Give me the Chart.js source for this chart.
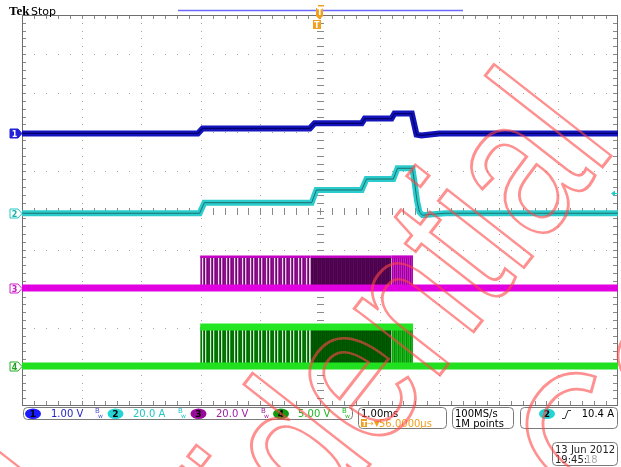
<!DOCTYPE html>
<html>
<head>
<meta charset="utf-8">
<script src="https://cdn.jsdelivr.net/npm/chart.js@4.4.0/dist/chart.umd.min.js"></script>
<style>
  html, body { margin: 0; padding: 0; background: #fff; }
  #wrap { width: 621px; height: 467px; }
</style>
</head>
<body>
<div id="wrap"><canvas id="scope" width="621" height="467"></canvas></div>
<script>
// horizontal: 1.00 ms/div, trigger at the centre, values in ms
const timeRange = [-5, 5];

// CH1, 1.00 V/div
const ch1Time  = [-5, -2.05, -1.97, -0.17, -0.09, 0.70, 0.75, 1.20, 1.25, 1.54, 1.62, 1.70, 2.00, 5];
const ch1Volts = [0, 0, 0.13, 0.13, 0.26, 0.26, 0.38, 0.38, 0.51, 0.51, -0.03, -0.05, 0, 0];

// CH2, 20.0 A/div
const ch2Time = [-5, -2.02, -1.94, -0.14, -0.06, 0.70, 0.78, 1.23, 1.30, 1.55, 1.59, 1.63, 1.67, 1.72, 1.85, 2.10, 5];
const ch2Amps = [0, 0, 5.4, 5.4, 11.9, 11.9, 17.5, 17.5, 23.0, 23.0, 15.0, 6.0, 0.5, -1.0, -0.6, 0, 0];

// CH3 (20.0 V/div) and CH4 (5.00 V/div) gate bursts
const burstEdges = [-2.01, -0.16, 1.20, 1.56]; // start, sparse->dense, dense->tail, end
const ch3High = 16.0;
const ch4High = 5.0;

// scope settings
const perDiv = [1.00, 20.0, 20.0, 5.00];
const offsetDiv = [1.97, -0.07, -1.98, -3.98];
const triggerLevel = 10.4;

const xy = (t, v) => t.map((x, i) => ({ x: x, y: v[i] }));
const flat = (span, v) => [{ x: span[0], y: v }, { x: span[1], y: v }];

function stripes(cols) {
  const c = document.createElement('canvas');
  c.width = cols.length; c.height = 4;
  const g = c.getContext('2d');
  cols.forEach((col, i) => { g.fillStyle = col; g.fillRect(i, 0, 1, 4); });
  return g.createPattern(c, 'repeat');
}

const ch3Fill = [
  stripes(['#8a128a', '#8a128a', '#f2dcf2', '#a030a0', '#6a086a', '#e8c8e8', '#b040b0', '#7a0a7a']),
  stripes(['#4c004c', '#5a0a5a', '#480048', '#520452']),
  stripes(['#a000a0', '#d020d0', '#8a008a', '#c818c8'])
];
const ch4Fill = [
  stripes(['#0a700a', '#0a700a', '#d8f4d8', '#129012', '#065806', '#c8ecc8', '#20a020', '#0a6a0a']),
  stripes(['#005400', '#006000', '#004e00', '#005a00']),
  stripes(['#10a010', '#20c020', '#0c8c0c', '#18b018'])
];

const line = (data, color, width, axis, extra) =>
  Object.assign({ data: data, borderColor: color, borderWidth: width, yAxisID: axis, fill: false }, extra);

const yAxes = {};
perDiv.forEach((d, i) => {
  yAxes['y' + (i + 1)] = { type: 'linear', display: false, min: (-5 - offsetDiv[i]) * d, max: (5 - offsetDiv[i]) * d };
});

function badge(ctx, x, y, fill, num) {
  ctx.fillStyle = fill;
  ctx.beginPath(); ctx.ellipse(x, y, 8, 5.3, 0, 0, Math.PI * 2); ctx.fill();
  ctx.fillStyle = '#000'; ctx.font = 'bold 9px "DejaVu Sans"'; ctx.textAlign = 'center';
  ctx.fillText(num, x, y + 3.5); ctx.textAlign = 'left';
}
function bw(ctx, x, color) {
  ctx.fillStyle = color;
  ctx.font = '7px "DejaVu Sans"'; ctx.fillText('B', x, 413);
  ctx.font = '6px "DejaVu Sans"'; ctx.fillText('w', x + 3, 418);
}
function box(ctx, x, y, w, h) {
  ctx.strokeStyle = '#7a7a7a'; ctx.lineWidth = 1;
  ctx.beginPath(); ctx.roundRect(x + 0.5, y + 0.5, w, h, 4); ctx.stroke();
}

const scopeDecor = {
  id: 'scopeDecor',
  beforeDatasetsDraw(chart) {
    const { ctx, chartArea: a } = chart;
    const dx = (a.right - a.left) / 10, dy = (a.bottom - a.top) / 10;
    const cx = Math.round(a.left + 5 * dx), cy = Math.round(a.top + 5 * dy);
    ctx.save();
    ctx.fillStyle = '#a4a4a4';
    for (let i = 1; i < 10; i++) {
      const x = Math.round(a.left + i * dx), y = Math.round(a.top + i * dy);
      for (let k = 1; k < 50; k++) {
        ctx.fillRect(x, Math.round(a.top + k * dy / 5), 1, 1);
        ctx.fillRect(Math.round(a.left + k * dx / 5), y, 1, 1);
      }
    }
    ctx.fillStyle = '#8a8a8a';
    for (let k = 1; k < 50; k++) {
      const y = Math.round(a.top + k * dy / 5), x = Math.round(a.left + k * dx / 5);
      ctx.fillRect(cx - 3, y, 7, 1);
      ctx.fillRect(x, cy - 3, 1, 7);
      ctx.fillRect(a.left, y, 4, 1);
      ctx.fillRect(a.right - 5, y, 4, 1);
      ctx.fillRect(x, a.top, 1, 4);
      ctx.fillRect(x, a.bottom - 5, 1, 4);
    }
    ctx.strokeStyle = '#6e6e6e'; ctx.lineWidth = 1;
    ctx.strokeRect(a.left + 0.5, a.top + 0.5, a.right - a.left - 1, a.bottom - a.top - 1);
    ctx.restore();
  },
  afterDraw(chart) {
    const { ctx, scales } = chart;
    ctx.save();
    ctx.textBaseline = 'alphabetic';

    // header
    ctx.fillStyle = '#000';
    ctx.font = 'bold 13px "Liberation Serif"'; ctx.fillText('Tek', 9, 15);
    ctx.font = '11px "DejaVu Sans"'; ctx.fillText('Stop', 31, 15);
    ctx.strokeStyle = '#6b6bff'; ctx.lineWidth = 1.5;
    ctx.beginPath(); ctx.moveTo(178, 10.5); ctx.lineTo(463, 10.5); ctx.stroke();

    // trigger position markers
    const tx = scales.x.getPixelForValue(0) - 1;
    ctx.fillStyle = '#f0a020';
    ctx.fillRect(tx - 1, 5, 6, 1.5);
    ctx.fillRect(tx - 3, 8, 7, 8);
    ctx.beginPath(); ctx.moveTo(tx - 3, 16); ctx.lineTo(tx + 4, 16); ctx.lineTo(tx + 0.5, 19.5); ctx.fill();
    ctx.fillRect(tx - 6, 20, 8, 9);
    ctx.fillStyle = '#fff'; ctx.font = 'bold 8px "DejaVu Sans"';
    ctx.fillText('T', tx - 5, 28); ctx.fillText('T', tx - 2, 15);

    // channel ground markers
    const mk = [['#2222d8', '#fff', true], ['#20c8c8', '#20b0b0', false], ['#d020d0', '#c020c0', false], ['#20b020', '#20a020', false]];
    mk.forEach((m, i) => {
      const y = Math.round(scales['y' + (i + 1)].getPixelForValue(0)) + 0.5;
      ctx.beginPath();
      ctx.moveTo(10, y - 4.5); ctx.lineTo(18, y - 4.5); ctx.lineTo(22, y); ctx.lineTo(18, y + 4.5); ctx.lineTo(10, y + 4.5); ctx.closePath();
      ctx.fillStyle = m[2] ? m[0] : '#fff'; ctx.fill();
      ctx.strokeStyle = m[0]; ctx.lineWidth = 1; ctx.stroke();
      ctx.fillStyle = m[1]; ctx.font = 'bold 8px "DejaVu Sans"'; ctx.textAlign = 'center';
      ctx.fillText(String(i + 1), 14.5, y + 3); ctx.textAlign = 'left';
    });

    // trigger level arrow (ch2)
    const ty = Math.round(scales.y2.getPixelForValue(triggerLevel)) + 0.5;
    ctx.fillStyle = '#20c8c8'; ctx.strokeStyle = '#20c8c8';
    ctx.beginPath(); ctx.moveTo(611, ty); ctx.lineTo(615, ty - 3); ctx.lineTo(615, ty + 3); ctx.fill();
    ctx.beginPath(); ctx.moveTo(614, ty); ctx.lineTo(618, ty); ctx.stroke();

    // status bar
    box(ctx, 23, 407, 329, 12);
    badge(ctx, 33, 413.7, '#1a1aff', '1');
    ctx.font = '10px "DejaVu Sans"';
    ctx.fillStyle = '#2424c0'; ctx.fillText('1.00 V', 51, 417);
    bw(ctx, 95, '#5050d0');
    badge(ctx, 115.5, 413.7, '#22d4d4', '2');
    ctx.font = '10px "DejaVu Sans"'; ctx.fillStyle = '#22c4c4'; ctx.fillText('20.0 A', 133, 417);
    bw(ctx, 178, '#22c4c4');
    badge(ctx, 198.5, 413.7, '#9a0a9a', '3');
    ctx.font = '10px "DejaVu Sans"'; ctx.fillStyle = '#a020a0'; ctx.fillText('20.0 V', 216, 417);
    bw(ctx, 261, '#a020a0');
    badge(ctx, 281, 413.7, '#109a10', '4');
    ctx.font = '10px "DejaVu Sans"'; ctx.fillStyle = '#20b820'; ctx.fillText('5.00 V', 298, 417);
    bw(ctx, 342, '#20b820');

    box(ctx, 358, 407, 88, 21);
    ctx.fillStyle = '#000'; ctx.font = '10px "DejaVu Sans"'; ctx.fillText('1.00ms', 361, 417);
    ctx.fillStyle = '#f0a020'; ctx.fillRect(361, 419, 6, 8);
    ctx.font = '8px "DejaVu Sans"'; ctx.fillText('\u2192\u25BC', 367, 426);
    ctx.font = '10px "DejaVu Sans"'; ctx.fillText('56.0000\u00B5s', 379, 427);
    ctx.fillStyle = '#fff'; ctx.font = 'bold 7px "DejaVu Sans"'; ctx.fillText('T', 362, 426);

    box(ctx, 452, 407, 61, 21);
    ctx.fillStyle = '#000'; ctx.font = '10px "DejaVu Sans"';
    ctx.fillText('100MS/s', 455, 417); ctx.fillText('1M points', 455, 427);

    box(ctx, 520, 407, 97, 21);
    badge(ctx, 547, 413.7, '#22d4d4', '2');
    ctx.strokeStyle = '#333'; ctx.lineWidth = 1;
    ctx.beginPath(); ctx.moveTo(562, 418.5); ctx.lineTo(565, 418.5); ctx.lineTo(568, 410.5); ctx.lineTo(571, 410.5); ctx.stroke();
    ctx.fillStyle = '#000'; ctx.font = '10px "DejaVu Sans"'; ctx.textAlign = 'right';
    ctx.fillText('10.4 A', 614, 417); ctx.textAlign = 'left';

    box(ctx, 552, 442, 65, 23);
    ctx.fillStyle = '#222'; ctx.font = '10px "DejaVu Sans"';
    ctx.fillText('13 Jun 2012', 555, 453);
    ctx.fillText('19:45:', 555, 463);
    ctx.fillStyle = '#aaa'; ctx.fillText('18', 585, 463);

    // watermark
    const ang = -52 * Math.PI / 180;
    const dir = [Math.cos(ang), Math.sin(ang)], up = [Math.sin(ang), -Math.cos(ang)];
    ctx.strokeStyle = 'rgba(255,70,70,0.6)'; ctx.lineWidth = 3;
    ctx.font = '205px "Liberation Sans"'; ctx.textAlign = 'right';
    [[-610, 220], [0, 0], [560, -232]].forEach(p => {
      const x = 618 + p[0] * dir[0] + p[1] * up[0], y = 147 + p[0] * dir[1] + p[1] * up[1];
      ctx.save(); ctx.translate(x, y); ctx.rotate(ang); ctx.scale(0.8, 1);
      ctx.strokeText('Confidential', 0, 0); ctx.restore();
    });
    ctx.restore();
  }
};

new Chart(document.getElementById('scope').getContext('2d'), {
  type: 'line',
  data: {
    datasets: [
      line(xy(ch1Time, ch1Volts), '#00006c', 1.2, 'y1', { order: 0 }),
      line(xy(ch1Time, ch1Volts), '#1414bc', 6, 'y1', { order: 1 }),
      line(xy(ch2Time, ch2Amps), '#1d6f6f', 1, 'y2', { order: 0 }),
      line(xy(ch2Time, ch2Amps), '#2ccccc', 6, 'y2', { order: 1 }),
      line(flat(timeRange, 0), '#e000e0', 7, 'y3', { order: 1 }),
      line(flat(timeRange, 0), '#20e020', 7, 'y4', { order: 1 }),
      line(flat([burstEdges[0], burstEdges[3]], ch4High), '#22e622', 7, 'y4', { order: 1 }),
      ...[0, 1, 2].map(i => line(flat([burstEdges[i], burstEdges[i + 1]], ch3High), '#c400c4', 2.5, 'y3',
        { order: 2, fill: { value: 0 }, backgroundColor: ch3Fill[i] })),
      ...[0, 1, 2].map(i => line(flat([burstEdges[i], burstEdges[i + 1]], ch4High), 'rgba(0,0,0,0)', 0, 'y4',
        { order: 2, fill: { value: 0 }, backgroundColor: ch4Fill[i] }))
    ]
  },
  options: {
    responsive: false,
    animation: false,
    layout: { padding: { left: 22, top: 15, right: 3, bottom: 61 } },
    elements: { point: { radius: 0 }, line: { tension: 0, borderCapStyle: 'butt' } },
    plugins: { legend: { display: false }, tooltip: { enabled: false } },
    scales: Object.assign({ x: { type: 'linear', display: false, min: timeRange[0], max: timeRange[1] } }, yAxes)
  },
  plugins: [scopeDecor]
});
</script>
</body>
</html>
